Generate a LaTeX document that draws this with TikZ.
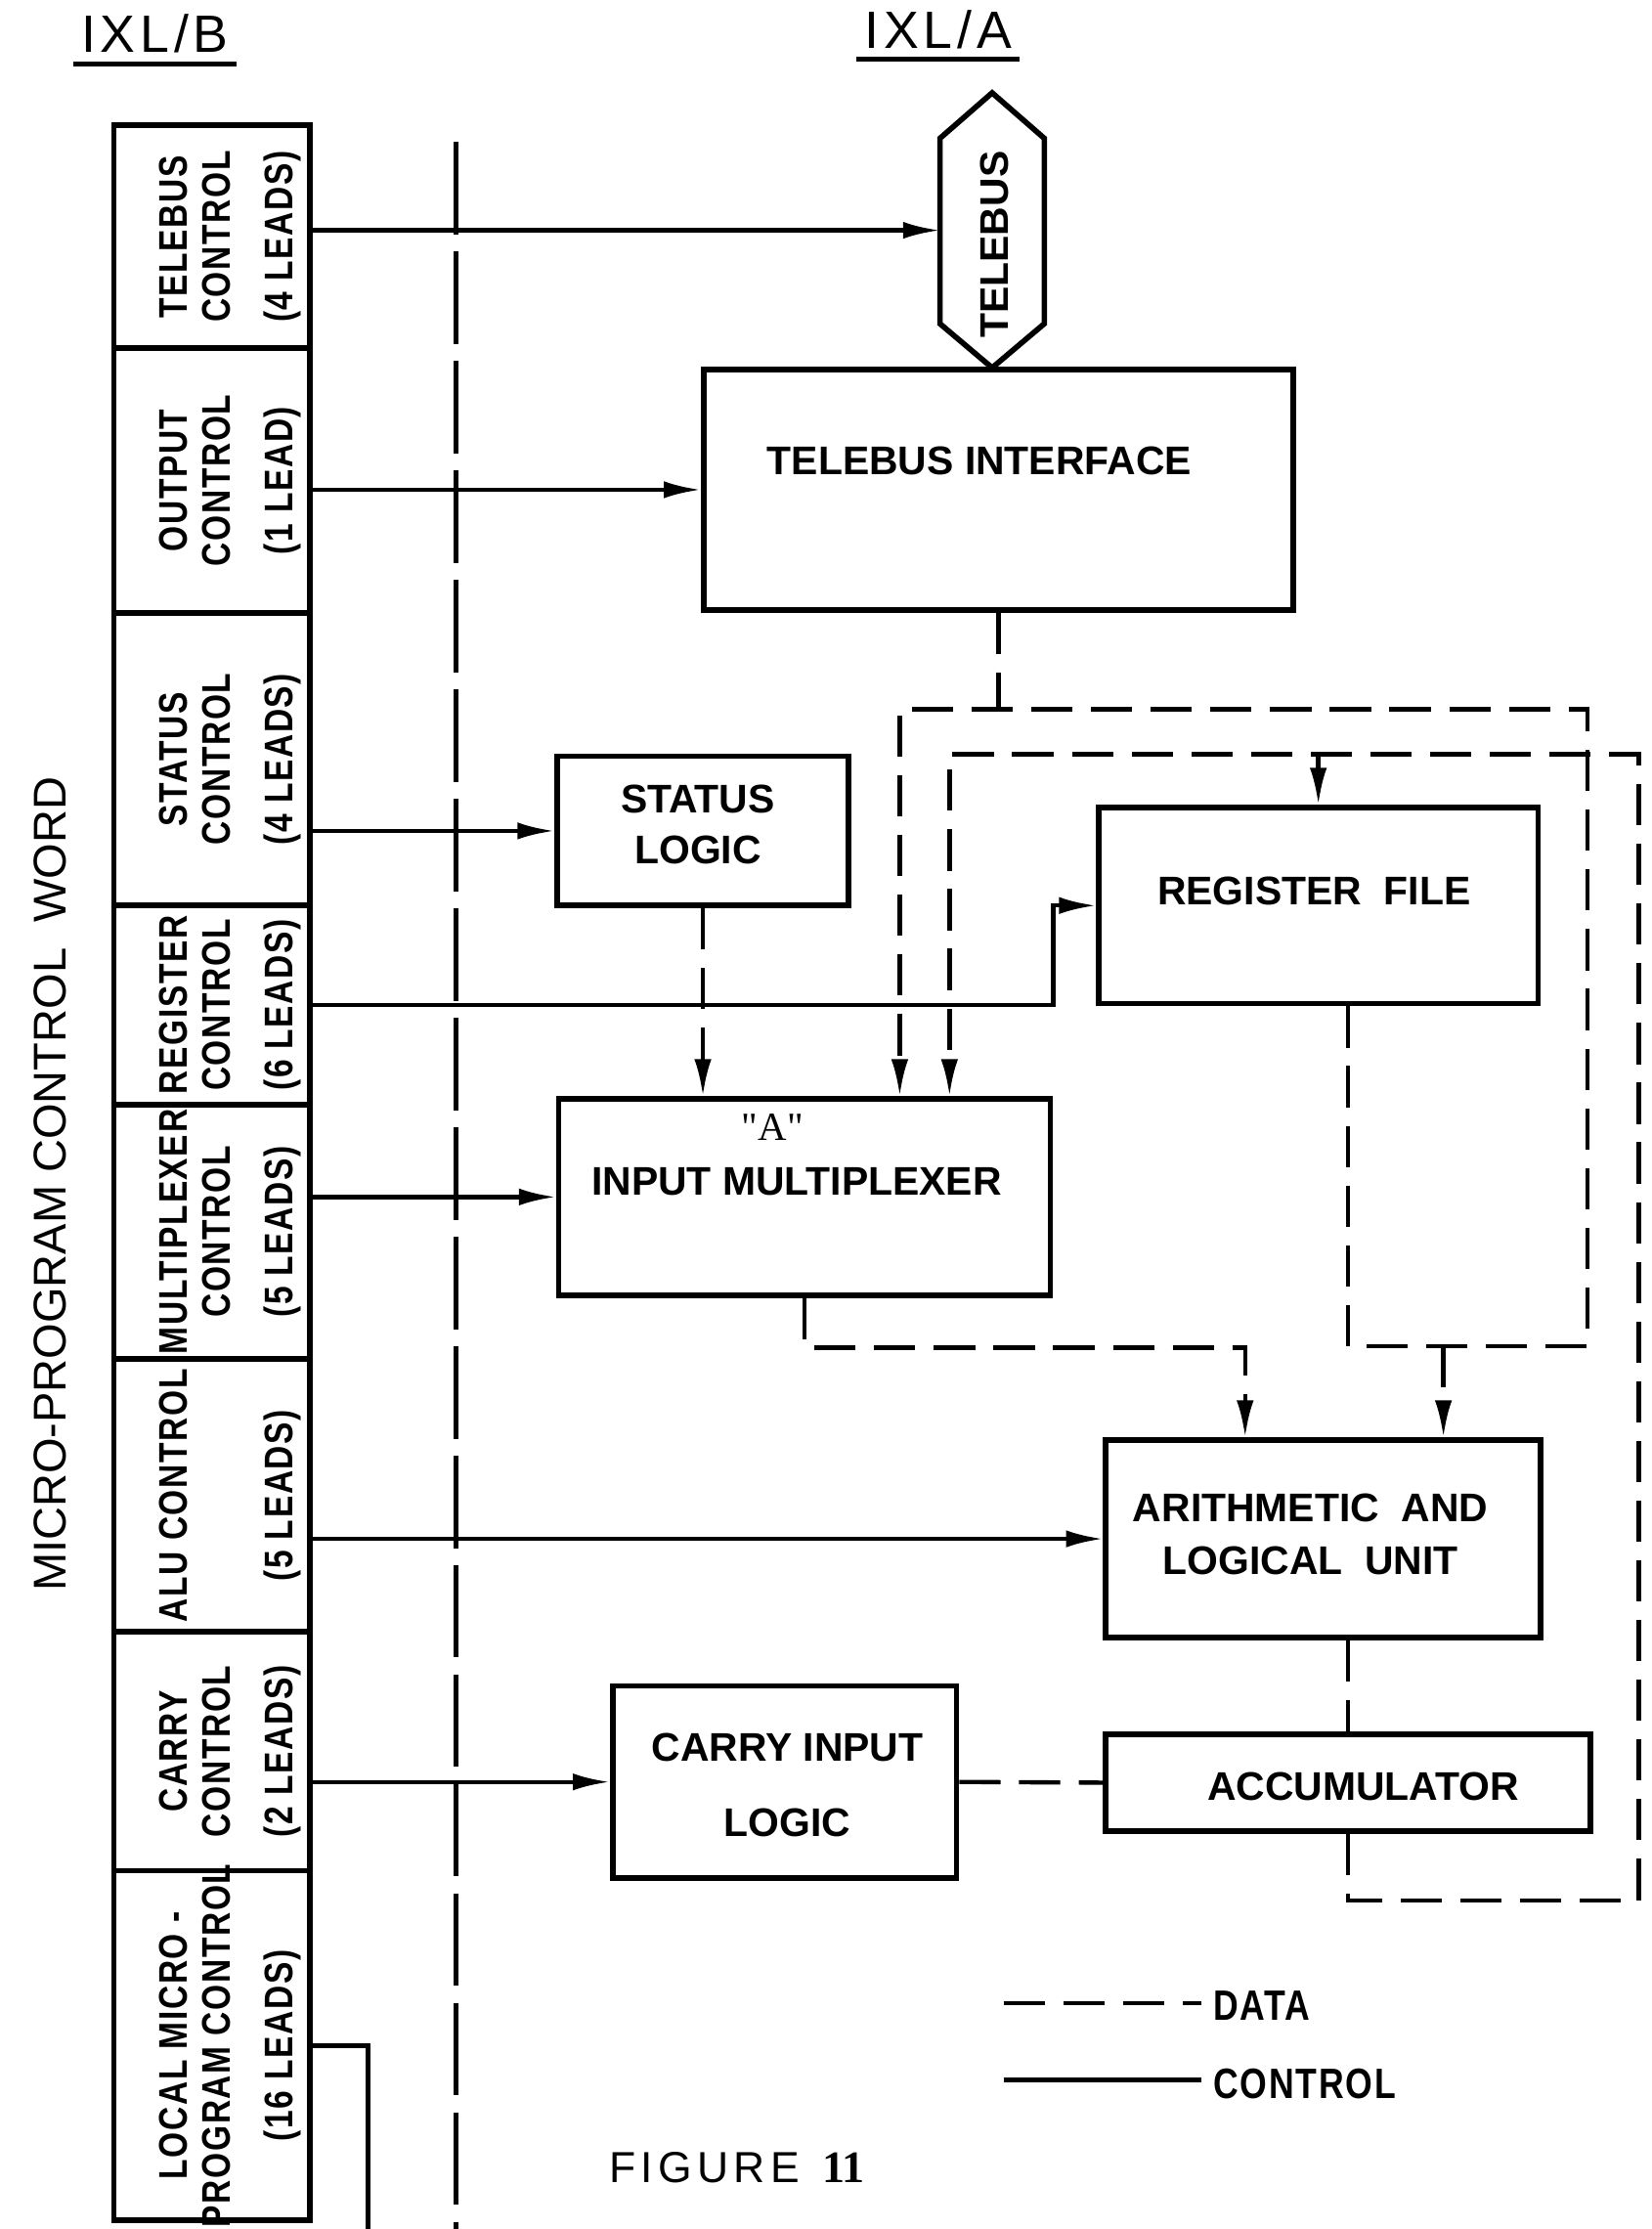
\documentclass[tikz,border=0pt]{standalone}
\usepackage{fontspec}
\setmainfont{Liberation Sans}
\newfontfamily\condfont{Liberation Sans}[FakeStretch=0.82,LetterSpace=4]
\newfontfamily\spacedfont{Liberation Sans}[LetterSpace=12]
\newfontfamily\headfont{Liberation Sans}[LetterSpace=9]
\newfontfamily\serifnum{Liberation Serif}
\usetikzlibrary{arrows.meta}

\begin{document}
\begin{tikzpicture}[x=0.1mm,y=-0.1mm,
  box/.style={draw,line width=1.1pt,inner sep=0},
  cellbox/.style={draw,line width=1.1pt,inner sep=0,minimum width=13.8mm},
  celltext/.style={rotate=90,align=center,inner sep=0,font=\condfont\bfseries\fontsize{8}{8.6}\selectfont},
  boxtext/.style={align=center,inner sep=0,font=\bfseries\fontsize{8}{10}\selectfont},
  legtext/.style={inner xsep=0.8mm,inner ysep=0,font=\condfont\bfseries\fontsize{8.5}{10}\selectfont},
  ctl/.style={line width=0.85pt,-{Latex[length=2.6mm,width=1.2mm]}},
  data/.style={line width=0.85pt,dash pattern=on 2.9mm off 1.3mm},
  datarr/.style={data,-{Latex[length=2.6mm,width=1.2mm]}},
  divider/.style={line width=0.9pt,dash pattern=on 6.5mm off 1.2mm}]

\useasboundingbox (0,0) rectangle (1162,1568);

% headings
\node[anchor=base,inner xsep=0.5mm,inner ysep=0.75mm,text depth=0pt,font=\headfont\fontsize{10.5}{12}\selectfont] (ixlb) at (109,37) {IXL/B};
\draw[line width=0.9pt] (ixlb.south west) -- (ixlb.south east);
\node[anchor=base,inner xsep=0.5mm,inner ysep=0.7mm,text depth=0pt,font=\headfont\fontsize{10.5}{12}\selectfont] (ixla) at (660,34) {IXL/A};
\draw[line width=0.9pt] (ixla.south west) -- (ixla.south east);
\node[rotate=90,inner sep=0,font=\fontsize{9.2}{11}\selectfont] (mpcw) at (35,833) {MICRO-PROGRAM CONTROL~~WORD};

% micro-program control word
\node[cellbox,minimum height=15.7mm] (tbc) at (149,166.5) {};
\node[cellbox,minimum height=18.6mm] (occ) at (149,338) {};
\node[cellbox,minimum height=20.6mm] (stc) at (149,534) {};
\node[cellbox,minimum height=14mm] (rgc) at (149,707) {};
\node[cellbox,minimum height=17.9mm] (mxc) at (149,866.5) {};
\node[cellbox,minimum height=19.2mm] (alc) at (149,1052) {};
\node[cellbox,minimum height=16.8mm] (cyc) at (149,1232) {};
\node[cellbox,minimum height=24.6mm] (lmc) at (149,1439) {};

\node[celltext] (tbct) at (162,166.5) {TELEBUS\\CONTROL\\[3.9pt](4 LEADS)};
\node[celltext] (occt) at (162,338) {OUTPUT\\CONTROL\\[3.9pt](1 LEAD)};
\node[celltext] (stct) at (162,534) {STATUS\\CONTROL\\[3.9pt](4 LEADS)};
\node[celltext] (rgct) at (162,707) {REGISTER\\CONTROL\\[3.9pt](6 LEADS)};
\node[celltext] (mxct) at (162,866.5) {MULTIPLEXER\\CONTROL\\[3.9pt](5 LEADS)};
\node[celltext] (alct) at (162,1052) {ALU CONTROL\\~\\[3.9pt](5 LEADS)};
\node[celltext] (cyct) at (162,1232) {CARRY\\CONTROL\\[3.9pt](2 LEADS)};
\node[celltext] (lmct) at (162,1439) {LOCAL MICRO -\\PROGRAM CONTROL\\[3.9pt](16 LEADS)};

% IXL/B - IXL/A boundary
\coordinate (sepT) at (321,100);
\coordinate (sepB) at (321,1568);
\draw[divider] (sepT) -- (sepB);

% telebus
\node[inner sep=0,minimum width=7.2mm,minimum height=19.2mm] (tbus) at (698,162) {};
\draw[line width=1.1pt] (tbus.north) -- ([yshift=-3.2mm]tbus.north east) -- ([yshift=3.1mm]tbus.south east)
  -- (tbus.south) -- ([yshift=3.1mm]tbus.south west) -- ([yshift=-3.2mm]tbus.north west) -- cycle;
\node[boxtext,rotate=90] (tbust) at (700,172) {TELEBUS};

% blocks of IXL/A
\node[box,minimum width=41.5mm,minimum height=16.9mm] (ti) at (702.5,344.5) {};
\node[boxtext] (tit) at (689,324) {TELEBUS INTERFACE};
\node[box,minimum width=20.5mm,minimum height=10.5mm] (stl) at (494.5,584.5) {};
\node[boxtext] (stlt) at (491,580) {STATUS\\LOGIC};
\node[box,minimum width=30.9mm,minimum height=13.8mm] (rf) at (927.5,637) {};
\node[boxtext] (rft) at (924.5,627) {REGISTER~~FILE};
\node[box,minimum width=34.6mm,minimum height=13.8mm] (mux) at (566,842) {};
\node[inner sep=0,font=\serifnum\fontsize{8}{10}\selectfont] (muxa) at (543.5,793) {"A"};
\node[boxtext] (muxt) at (560.5,831) {INPUT MULTIPLEXER};
\node[box,minimum width=30.6mm,minimum height=13.9mm] (alu) at (931,1082.5) {};
\node[boxtext,font=\bfseries\fontsize{8}{10.5}\selectfont] (alut) at (922,1079.5) {ARITHMETIC~~AND\\LOGICAL~~UNIT};
\node[box,minimum width=24.2mm,minimum height=13.5mm] (cil) at (552,1253.5) {};
\node[boxtext,font=\bfseries\fontsize{8}{15}\selectfont] (cilt) at (554,1255.5) {CARRY INPUT\\LOGIC};
\node[box,minimum width=34.1mm,minimum height=6.8mm] (acc) at (948.5,1254) {};
\node[boxtext] (acct) at (959,1257) {ACCUMULATOR};

% control leads
\draw[ctl] (tbc.east |- tbus.west) -- (tbus.west);
\draw[ctl] (occ.east |- ti.west) -- (ti.west);
\draw[ctl] (stc.east |- stl.west) -- (stl.west);
\draw[ctl] (rgc.east) -| (mux.east |- rf.west) -- (rf.west);
\draw[ctl] (mxc.east |- mux.west) -- (mux.west);
\draw[ctl] (alc.east |- alu.west) -- (alu.west);
\draw[ctl] (cyc.east |- cil.west) -- (cil.west);
\coordinate (lmend) at (259,1568);
\draw[line width=0.85pt] (lmc.east) -| (lmend);

% data paths
\coordinate (otl) at (633,499);
\coordinate (otr) at (1117,499);
\coordinate (obr) at (1117,947);
\coordinate (itl) at (668,530.5);
\coordinate (itr) at (1153,530.5);
\coordinate (ibr) at (1153,1337);
\coordinate (alin) at (1015.5,947);

\draw[data] (ti.south) -- (ti.south |- otl);
\draw[datarr] (acc.north |- rf.south) |- (obr) -- (otr) -- (otl) -- (otl |- mux.north);
\draw[datarr] (alin) -- (alin |- alu.north);
\draw[datarr] (acc.south) |- (ibr) -- (itr) -- (itl) -- (itl |- mux.north);
\draw[datarr] (rf.north |- itl) -- (rf.north);
\draw[datarr] (stl.south) -- (stl.south |- mux.north);
\draw[datarr] (mux.south) -- ++(0,35) -| ([xshift=-5.5mm]alu.north);
\draw[data] (acc.north |- alu.south) -- (acc.north);
\draw[data] (cil.east) -- (acc.west);

% legend
\coordinate (dl) at (706,1409);
\coordinate (cl) at (706,1463);
\node[legtext,anchor=west] (datat) at (845,1411) {DATA};
\node[legtext,anchor=west] (ctlt) at (845,1466) {CONTROL};
\draw[data] (dl) -- (datat.west |- dl);
\draw[line width=0.85pt] (cl) -- (ctlt.west |- cl);

\node[anchor=west,inner sep=0,font=\spacedfont\fontsize{8.7}{10}\selectfont] (fig) at (428,1525) {FIGURE\hspace{1.6mm}{\serifnum\bfseries\fontsize{9}{10}\selectfont 11}};

\end{tikzpicture}
\end{document}
